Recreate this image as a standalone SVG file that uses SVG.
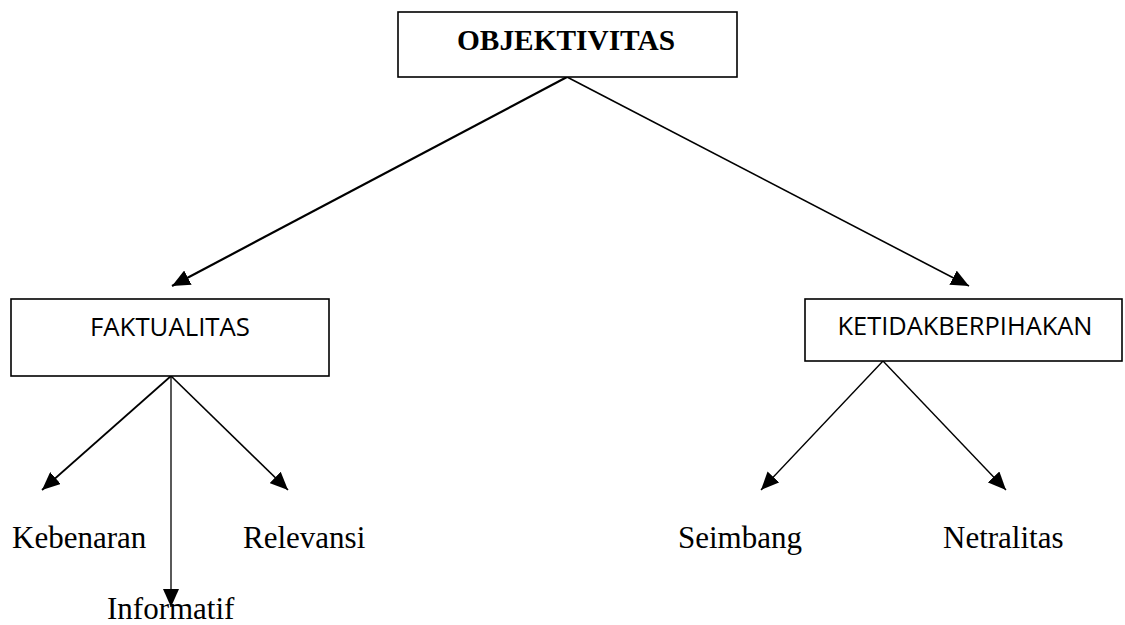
<svg xmlns="http://www.w3.org/2000/svg" width="1125" height="625" viewBox="0 0 1125 625">
<style>
.box{fill:#fff;stroke:#000;stroke-width:1.6}
.sans{font-family:"Open Sans","Noto Sans",sans-serif;font-size:25px;fill:#000}
.serif{font-family:"Liberation Serif","Times New Roman",serif;font-size:31px;fill:#000}
.title{font-family:"Liberation Serif","Times New Roman",serif;font-size:30px;font-weight:bold;fill:#000}
.con{stroke:#000;fill:none}
</style>
<defs>
<marker id="ah" markerUnits="userSpaceOnUse" markerWidth="19" markerHeight="16" refX="18" refY="8" orient="auto">
<path d="M0,0 L18,8 L0,16 z" fill="#000"/>
</marker>
</defs>
<g id="connectors">
<line class="con" stroke-width="2.2" x1="567" y1="77" x2="172" y2="286" marker-end="url(#ah)"/>
<line class="con" stroke-width="1.6" x1="567" y1="77" x2="969" y2="286" marker-end="url(#ah)"/>
<line class="con" stroke-width="1.7" x1="171" y1="376" x2="42" y2="490" marker-end="url(#ah)"/>
<line class="con" stroke-width="1.7" x1="171" y1="376" x2="288" y2="490" marker-end="url(#ah)"/>
<line class="con" stroke-width="1.3" x1="171" y1="376" x2="171" y2="607" marker-end="url(#ah)"/>
<line class="con" stroke-width="1.4" x1="883" y1="361" x2="761" y2="490" marker-end="url(#ah)"/>
<line class="con" stroke-width="1.4" x1="883" y1="361" x2="1006" y2="490" marker-end="url(#ah)"/>
</g>
<g id="objektivitas">
<rect class="box" x="398" y="12" width="339" height="65"/>
<text class="title" x="566" y="50" text-anchor="middle" textLength="218" lengthAdjust="spacingAndGlyphs">OBJEKTIVITAS</text>
</g>
<g id="faktualitas">
<rect class="box" x="11" y="299" width="318" height="77"/>
<text class="sans" x="170" y="336" text-anchor="middle" textLength="160" lengthAdjust="spacingAndGlyphs">FAKTUALITAS</text>
</g>
<g id="ketidakberpihakan">
<rect class="box" x="805" y="299" width="317" height="62"/>
<text class="sans" x="965" y="335" text-anchor="middle" textLength="255" lengthAdjust="spacingAndGlyphs">KETIDAKBERPIHAKAN</text>
</g>
<g id="kebenaran"><text class="serif" x="12" y="548">Kebenaran</text></g>
<g id="relevansi"><text class="serif" x="243" y="548">Relevansi</text></g>
<g id="informatif"><text class="serif" x="107" y="619">Informatif</text></g>
<g id="seimbang"><text class="serif" x="678" y="548">Seimbang</text></g>
<g id="netralitas"><text class="serif" x="943" y="548">Netralitas</text></g>
</svg>
